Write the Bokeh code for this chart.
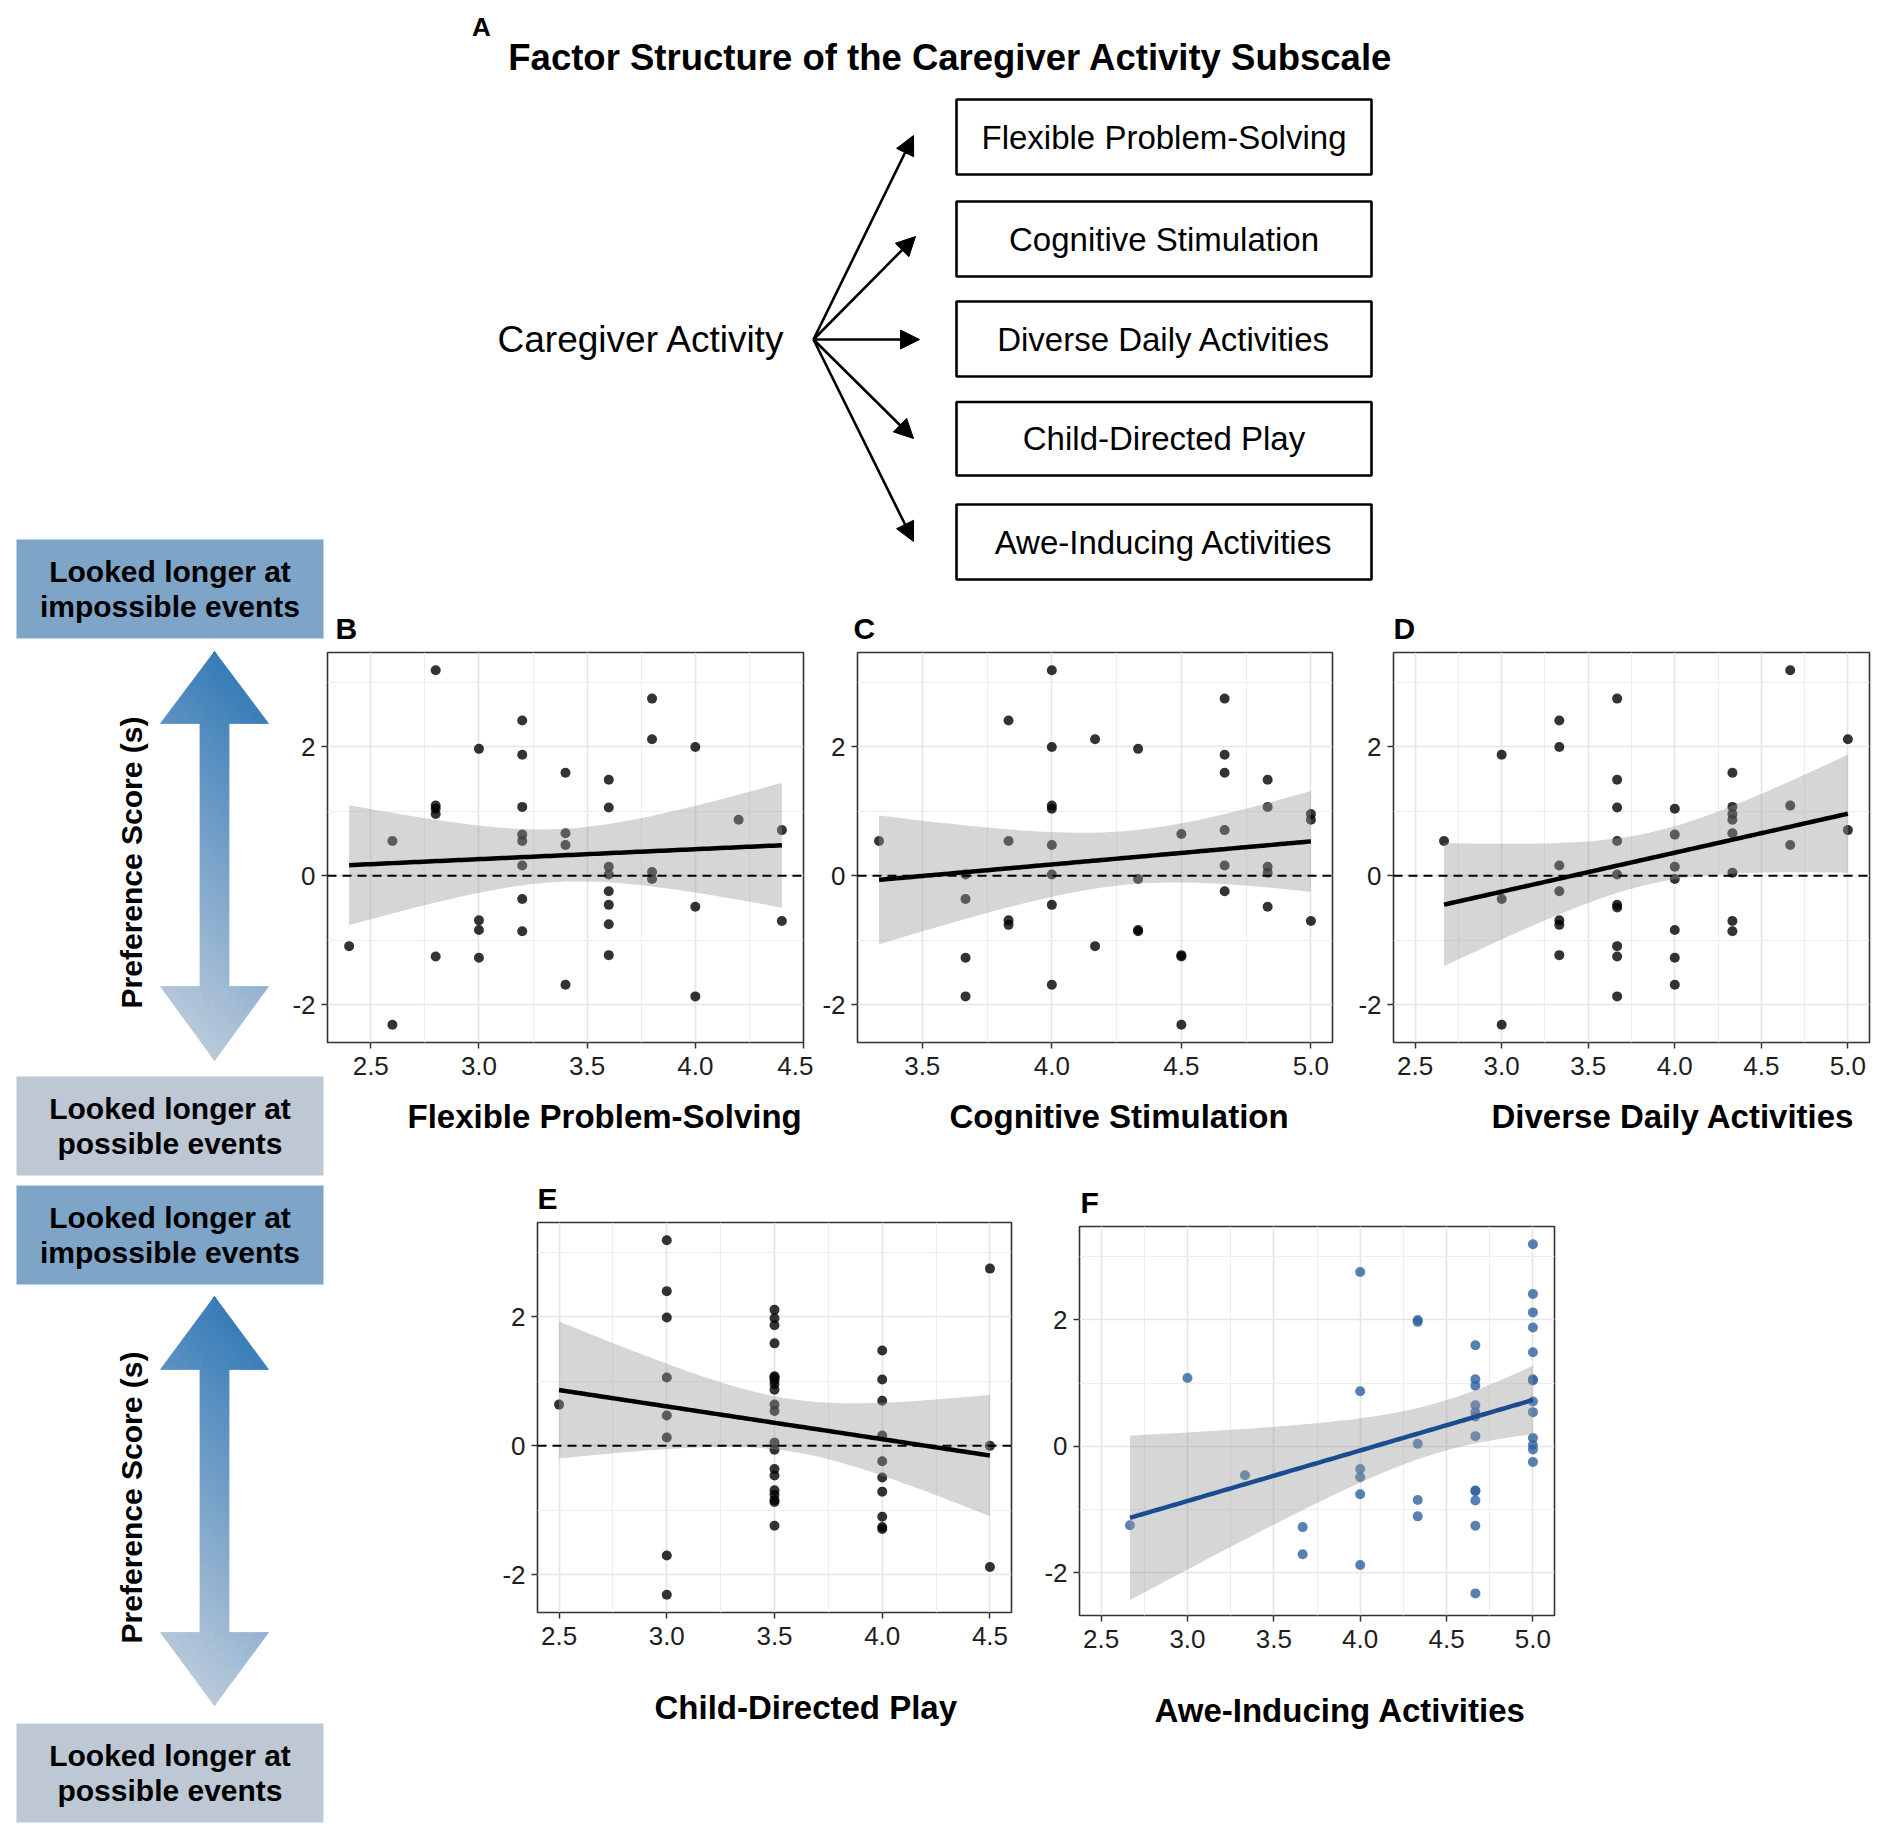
import numpy as np
from bokeh.plotting import figure
from bokeh.models import (Range1d, FixedTicker, NumeralTickFormatter, Span, Title,
                          Arrow, NormalHead, GridBox)
from bokeh.embed import file_html
from bokeh.resources import INLINE
from bokeh.core.properties import value

FONT = "Liberation Sans"
OFF = 0

# ---------------- data ----------------
diagram_title = "Factor Structure of the Caregiver Activity Subscale"
latent_name = "Caregiver Activity"
factor_names = ["Flexible Problem-Solving", "Cognitive Stimulation",
                "Diverse Daily Activities", "Child-Directed Play", "Awe-Inducing Activities"]
side_top = ["Looked longer at", "impossible events"]
side_bottom = ["Looked longer at", "possible events"]
y_title = "Preference Score (s)"

y_ticks = [-2, 0, 2]
y_minor = [-1, 1, 3]

# B: Flexible Problem-Solving
b_x = [2.8, 3.8, 3.2, 3.8, 3.0, 4.0, 3.2, 3.4, 3.6, 2.8, 2.8, 2.8, 3.2, 3.6, 4.2, 4.4, 2.6, 3.2, 3.2, 3.4, 3.4,
       3.2, 3.6, 3.6, 3.8, 3.8, 3.2, 3.6, 3.6, 4.0, 3.0, 3.0, 3.2, 3.6, 4.4, 2.4, 2.8, 3.0, 3.6, 3.4, 4.0, 2.6]
b_y = [3.19, 2.75, 2.41, 2.12, 1.97, 2.00, 1.88, 1.60, 1.49, 1.09, 1.04, 0.96, 1.07, 1.06, 0.87, 0.71, 0.54, 0.64,
       0.54, 0.66, 0.48, 0.16, 0.14, 0.02, 0.06, -0.05, -0.36, -0.24, -0.45, -0.48, -0.69, -0.84, -0.86, -0.75,
       -0.70, -1.09, -1.25, -1.27, -1.23, -1.69, -1.87, -2.31]
b_xticks = [2.5, 3.0, 3.5, 4.0, 4.5]
b_xminor = [2.75, 3.25, 3.75, 4.25]

# C: Cognitive Stimulation
c_x = [4.0, 4.667, 3.833, 4.167, 4.0, 4.333, 4.667, 4.667, 4.833, 4.0, 4.0, 4.833, 5.0, 5.0, 3.333, 3.833, 4.0,
       4.5, 4.667, 3.667, 4.0, 4.667, 4.833, 4.833, 4.333, 3.667, 4.667, 4.0, 4.833, 3.833, 3.833, 4.333, 4.333,
       5.0, 4.167, 3.667, 4.5, 4.5, 4.0, 3.667, 4.5]
c_y = [3.19, 2.75, 2.41, 2.12, 2.00, 1.97, 1.88, 1.60, 1.49, 1.09, 1.04, 1.07, 0.96, 0.87, 0.54, 0.54, 0.48,
       0.65, 0.71, 0.02, 0.02, 0.16, 0.14, 0.05, -0.05, -0.36, -0.24, -0.45, -0.48, -0.69, -0.76, -0.84, -0.86,
       -0.70, -1.09, -1.27, -1.23, -1.25, -1.69, -1.87, -2.31]
c_xticks = [3.5, 4.0, 4.5, 5.0]
c_xminor = [3.75, 4.25, 4.75]

# D: Diverse Daily Activities
d_x = [4.667, 3.667, 3.333, 3.333, 3.0, 5.0, 4.333, 3.667, 3.667, 4.0, 4.333, 4.333, 4.333, 4.667, 5.0, 2.667,
       3.667, 4.0, 4.333, 4.667, 3.333, 3.667, 4.0, 4.0, 4.333, 3.0, 3.333, 3.667, 3.667, 3.333, 3.333, 4.0,
       4.333, 4.333, 3.667, 3.667, 3.333, 4.0, 4.0, 3.667, 3.0]
d_y = [3.19, 2.75, 2.41, 2.00, 1.88, 2.12, 1.60, 1.49, 1.06, 1.04, 1.07, 0.96, 0.87, 1.09, 0.71, 0.54, 0.54,
       0.64, 0.66, 0.48, 0.16, 0.02, 0.14, -0.05, 0.05, -0.36, -0.24, -0.45, -0.49, -0.69, -0.76, -0.84, -0.70,
       -0.86, -1.09, -1.25, -1.23, -1.27, -1.69, -1.87, -2.31]
d_xticks = [2.5, 3.0, 3.5, 4.0, 4.5, 5.0]
d_xminor = [2.75, 3.25, 3.75, 4.25, 4.75]

# E: Child-Directed Play
e_x = [3.0, 3.0, 3.0, 3.0, 3.0, 3.0, 3.0, 3.0, 2.5,
       3.5, 3.5, 3.5, 3.5, 3.5, 3.5, 3.5, 3.5, 3.5, 3.5, 3.5, 3.5, 3.5, 3.5, 3.5, 3.5, 3.5, 3.5, 3.5, 3.5,
       4.0, 4.0, 4.0, 4.0, 4.0, 4.0, 4.0, 4.0, 4.0, 4.0, 4.5, 4.5, 4.5]
e_y = [3.19, 2.40, 1.99, 1.06, 0.47, 0.13, -1.70, -2.31, 0.64,
       2.11, 1.98, 1.87, 1.59, 1.08, 1.06, 1.02, 0.96, 0.87, 0.64, 0.54, 0.05, -0.06, -0.36, -0.46, -0.69,
       -0.76, -0.84, -0.87, -1.24,
       1.48, 1.03, 0.70, 0.16, -0.24, -0.49, -0.71, -1.10, -1.26, -1.29, 2.75, 0.00, -1.88]
e_xticks = [2.5, 3.0, 3.5, 4.0, 4.5]
e_xminor = [2.75, 3.25, 3.75, 4.25]

# F: Awe-Inducing Activities
f_x = [2.667, 3.0, 3.333, 3.667, 3.667, 4.0, 4.0, 4.0, 4.0, 4.0, 4.0, 4.333, 4.333, 4.333, 4.333, 4.333,
       4.667, 4.667, 4.667, 4.667, 4.667, 4.667, 4.667, 4.667, 4.667, 4.667, 4.667, 4.667,
       5.0, 5.0, 5.0, 5.0, 5.0, 5.0, 5.0, 5.0, 5.0, 5.0, 5.0, 5.0, 5.0]
f_y = [-1.25, 1.08, -0.46, -1.28, -1.71, 2.76, 0.87, -0.36, -0.49, -0.76, -1.88, 2.00, 1.97, 0.04, -0.85,
       -1.11, 1.60, 1.06, 0.96, 0.65, 0.54, 0.47, 0.16, -0.70, -0.71, -0.86, -1.26, -2.33,
       3.20, 2.41, 2.12, 1.88, 1.49, 1.06, 1.04, 0.71, 0.54, 0.13, 0.02, -0.05, -0.25]
f_xticks = [2.5, 3.0, 3.5, 4.0, 4.5, 5.0]
f_xminor = [2.75, 3.25, 3.75, 4.25, 4.75]


# ---------------- helpers ----------------
def t975(df):
    z = 1.959964
    g1 = (z ** 3 + z) / 4
    g2 = (5 * z ** 5 + 16 * z ** 3 + 3 * z) / 96
    g3 = (3 * z ** 7 + 19 * z ** 5 + 17 * z ** 3 - 15 * z) / 384
    return z + g1 / df + g2 / df ** 2 + g3 / df ** 3


def fit_band(x, y, npts=100):
    x = np.asarray(x, float)
    y = np.asarray(y, float)
    n = len(x)
    b1, b0 = np.polyfit(x, y, 1)
    resid = y - (b0 + b1 * x)
    s = np.sqrt(np.sum(resid ** 2) / (n - 2))
    xbar = x.mean()
    sxx = np.sum((x - xbar) ** 2)
    xs = np.linspace(x.min(), x.max(), npts)
    yhat = b0 + b1 * xs
    se = s * np.sqrt(1.0 / n + (xs - xbar) ** 2 / sxx)
    t = t975(n - 2)
    return xs, yhat, yhat - t * se, yhat + t * se


def place(obj, left, top):
    obj.margin = (int(top - OFF), 0, 0, int(left - OFF))
    obj.align = "start"


ML, MT, MB, MR = 60, 50, 160, 10


def make_panel(letter, xlabel, xs, ys, x_rng, y_rng, xt, xm, FL, FT, FW, FH,
               t_left, t_standoff, letter_off, pt_color, line_color, zero_line):
    p = figure(frame_width=FW, frame_height=FH, x_range=Range1d(*x_rng), y_range=Range1d(*y_rng),
               output_backend="svg", toolbar_location=None, title=letter,
               min_border_left=ML, min_border_top=MT, min_border_bottom=MB, min_border_right=MR,
               border_fill_color=None, background_fill_color="white",
               outline_line_color="#333333", outline_line_width=1.6)
    p.title.text_font = FONT
    p.title.text_font_size = "30px"
    p.title.text_font_style = "bold"
    p.title.text_color = "black"
    p.title.align = "left"
    p.title.offset = letter_off
    p.title.standoff = 15

    p.xaxis.ticker = FixedTicker(ticks=xt, minor_ticks=xm)
    p.yaxis.ticker = FixedTicker(ticks=y_ticks, minor_ticks=y_minor)
    p.xaxis.formatter = NumeralTickFormatter(format="0.0")
    p.yaxis.formatter = NumeralTickFormatter(format="0")
    for ax in (p.xaxis, p.yaxis):
        ax.axis_line_color = None
        ax.minor_tick_line_color = None
        ax.major_tick_in = 0
        ax.major_tick_out = 6
        ax.major_tick_line_color = "#333333"
        ax.major_tick_line_width = 1.5
        ax.major_label_text_font = FONT
        ax.major_label_text_font_size = "26px"
        ax.major_label_text_color = "#1e1e1e"
        ax.major_label_standoff = 6
    p.xaxis.major_label_standoff = 8
    for g in (p.xgrid, p.ygrid):
        g.grid_line_color = "#E6E6E6"
        g.grid_line_width = 1.7
        g.minor_grid_line_color = "#EEEEEE"
        g.minor_grid_line_width = 1.2

    p.scatter(xs, ys, size=10, fill_color=pt_color, fill_alpha=0.8, line_color=None)
    fx, fy, lo, hi = fit_band(xs, ys)
    p.varea(x=fx, y1=lo, y2=hi, fill_color="#999999", fill_alpha=0.4)
    p.line(fx, fy, line_color=line_color, line_width=4.5)
    if zero_line:
        p.add_layout(Span(location=0, dimension="width", line_color="black",
                          line_dash="9 6", line_width=2))

    p.add_layout(Title(text=xlabel, align="left", offset=t_left - FL, standoff=t_standoff,
                       text_font=FONT, text_font_size="33px", text_font_style="bold",
                       text_color="black"), "below")
    place(p, FL - ML, FT - MT)
    return p


# ---------------- background canvas (diagram + side annotations) ----------------
W, H = 1890, 1825
bg = figure(width=W, height=H, x_range=Range1d(0, W), y_range=Range1d(-H, 0),
            output_backend="svg", toolbar_location=None, min_border=0,
            x_axis_location=None, y_axis_location=None, outline_line_color=None,
            background_fill_color="white", border_fill_color="white")
bg.grid.visible = False
place(bg, 0, 0)

# panel A
bg.text(x=[481], y=[-26], text=["A"], text_font=value(FONT), text_font_size="26px",
        text_font_style="bold", text_align="center", text_baseline="middle")
bg.text(x=[950], y=[-57], text=[diagram_title], text_font=value(FONT), text_font_size="36.5px",
        text_font_style="bold", text_align="center", text_baseline="middle")
box_top = [99, 201, 301, 401.5, 504]
box_bot = [174, 276, 376, 475, 579]
bg.quad(left=956, right=1371, top=[-v for v in box_top], bottom=[-v for v in box_bot],
        fill_color="white", line_color="black", line_width=2.6)
bg.text(x=[1163.5] * 5, y=[-(a + b) / 2 for a, b in zip(box_top, box_bot)], text=factor_names,
        text_font=value(FONT), text_font_size="33px", text_align="center", text_baseline="middle")
bg.text(x=[641], y=[-339], text=[latent_name], text_font=value(FONT), text_font_size="37px",
        text_align="center", text_baseline="middle")
tips = [(913, 135), (915, 236), (919, 339), (913, 438), (913, 541)]
for tx, ty in tips:
    bg.add_layout(Arrow(end=NormalHead(size=19, fill_color="black", line_color="black", line_width=1),
                        x_start=813, y_start=-339, x_end=tx, y_end=-ty,
                        line_color="black", line_width=2.6))

# side boxes
imp_col, pos_col = "#7EA4C7", "#BDC8D4"
side_boxes = [(539, 638, imp_col, side_top), (1076, 1175, pos_col, side_bottom),
              (1185, 1284, imp_col, side_top), (1723, 1822, pos_col, side_bottom)]
for t, b, col, lines in side_boxes:
    bg.quad(left=16, right=323, top=-t, bottom=-b, fill_color=col, line_color=None)
    mid = (t + b) / 2
    bg.text(x=[169.5, 169.5], y=[-(mid - 17.5), -(mid + 17.5)], text=lines, text_font=value(FONT),
            text_font_size="30px", text_font_style="bold", text_align="center", text_baseline="middle")


def grad_arrow(cx, y_top, y_hb1, y_hb2, y_bot, head_hw, shaft_hw, step=3, nseg=8):
    dark = np.array([36, 112, 178], float)
    light = np.array([203, 212, 223], float)

    def hw_region(y, reg):
        if reg == 0:
            return head_hw * (y - y_top) / (y_hb1 - y_top)
        if reg == 2:
            return head_hw * (y_bot - y) / (y_bot - y_hb2)
        return shaft_hw

    xs_all, ys_all, cols = [], [], []
    for reg, (a, b) in enumerate([(y_top, y_hb1), (y_hb1, y_hb2), (y_hb2, y_bot)]):
        edges = list(np.arange(a, b, step)) + [b]
        for y0, y1 in zip(edges[:-1], edges[1:]):
            w0, w1 = hw_region(y0, reg), hw_region(y1, reg)
            for j in range(nseg):
                f0, f1 = j / nseg, (j + 1) / nseg
                xa0 = cx - w0 + 2 * w0 * f0
                xb0 = cx - w0 + 2 * w0 * f1
                xa1 = cx - w1 + 2 * w1 * f0
                xb1 = cx - w1 + 2 * w1 * f1
                xc = (xa0 + xb0 + xa1 + xb1) / 4
                yc = (y0 + y1) / 2
                tt = ((yc - y_top) + (cx + head_hw - xc)) / ((y_bot - y_top) + 2 * head_hw)
                c = dark * (1 - tt) + light * tt
                xs_all.append([xa0, xb0, xb1, xa1])
                ys_all.append([-y0, -y0, -y1, -y1])
                cols.append("#%02x%02x%02x" % tuple(int(round(v)) for v in c))
    bg.patches(xs_all, ys_all, fill_color=cols, line_color=cols, line_width=0.8)


grad_arrow(214, 651, 723, 986, 1060, 54, 14.5)
grad_arrow(214, 1296, 1369, 1632, 1705, 54, 14.5)
bg.text(x=[131, 131], y=[-862, -1497], text=[y_title, y_title], angle=np.pi / 2,
        text_font=value(FONT), text_font_size="30px", text_font_style="bold",
        text_align="center", text_baseline="middle")

# ---------------- panels ----------------
Y_RNG = (-2.585, 3.465)
pB = make_panel("B", factor_names[0], b_x, b_y, (2.3, 4.5), Y_RNG, b_xticks, b_xminor,
                327, 652, 476, 390, 407, 37, 8, "black", "black", True)
pC = make_panel("C", factor_names[1], c_x, c_y, (3.25, 5.0833), Y_RNG, c_xticks, c_xminor,
                857, 652, 475, 390, 949, 37, -4, "black", "black", True)
pD = make_panel("D", factor_names[2], d_x, d_y, (2.375, 5.125), Y_RNG, d_xticks, d_xminor,
                1393, 652, 476, 390, 1491, 37, 0, "black", "black", True)
pE = make_panel("E", factor_names[3], e_x, e_y, (2.4, 4.6), Y_RNG, e_xticks, e_xminor,
                537, 1222, 474, 390, 654, 78, 0, "black", "black", True)
pF = make_panel("F", factor_names[4], f_x, f_y, (2.375, 5.125), (-2.68, 3.48), f_xticks, f_xminor,
                1079, 1226, 475, 389, 1154, 78, 1, "#2E62A0", "#1A4D8F", False)

panels = GridBox(children=[(pB, 0, 0), (pC, 0, 0), (pD, 0, 0), (pE, 0, 0), (pF, 0, 0)])
place(panels, 0, 0)
layout = GridBox(children=[(bg, 0, 0), (panels, 0, 0)])

with open("out.html", "w") as fh:
    fh.write(file_html(layout, INLINE))
